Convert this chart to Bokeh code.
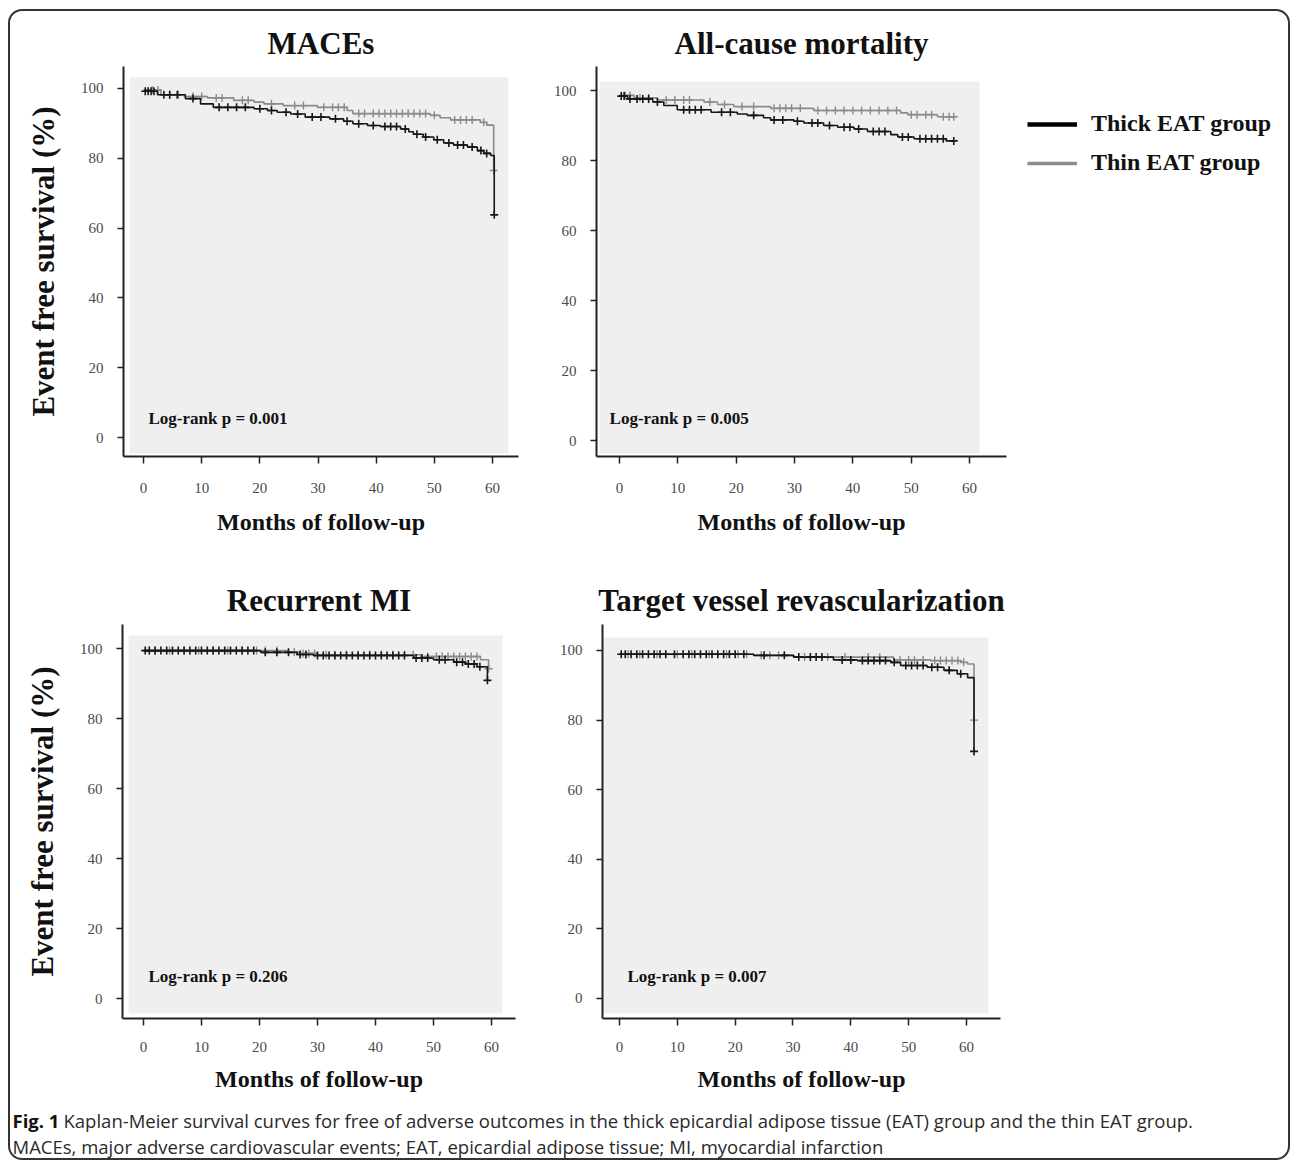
import numpy as np
from bokeh.plotting import figure
from bokeh.models import Range1d, FixedTicker, BoxAnnotation, Label, Legend, LegendItem, Spacer
from bokeh.layouts import row, column
from bokeh.embed import file_html
from bokeh.resources import INLINE

# ---------------- data ----------------
x_ticks = [0, 10, 20, 30, 40, 50, 60]
y_ticks = [0, 20, 40, 60, 80, 100]
group_names = ["Thick EAT group", "Thin EAT group"]
panel_titles = ["MACEs", "All-cause mortality", "Recurrent MI", "Target vessel revascularization"]
logrank_texts = ["Log-rank p = 0.001", "Log-rank p = 0.005", "Log-rank p = 0.206", "Log-rank p = 0.007"]

# MACEs
maces_thick_t = [0, 2.4, 7.2, 9.8, 12.0, 19.0, 21.3, 23.0, 25.3, 27.8, 32.0, 34.4, 36.0, 38.5, 40.7, 44.2,
                 45.6, 46.4, 48.1, 49.9, 51.6, 53.3, 55.7, 57.4, 58.5, 59.7, 60.3]
maces_thick_s = [99.2, 98.2, 97.1, 95.6, 94.6, 94.2, 93.7, 93.2, 92.7, 91.8, 91.3, 90.6, 89.9, 89.4, 89.1, 88.4,
                 87.6, 86.9, 86.1, 85.3, 84.4, 83.8, 83.2, 82.2, 81.4, 80.8, 63.8]
maces_thick_c = [0.3, 0.8, 1.3, 1.8, 3.5, 4.5, 5.8, 8.5, 13, 14.5, 16, 17.5, 20, 22, 24.5, 26.5, 29, 30.5, 33, 35,
                 37, 39.5, 41.5, 42.5, 43.5, 45, 47, 48.5, 50.5, 52.5, 54, 55, 56.5, 58, 59, 60.3]
maces_thin_t = [0, 3.0, 7.0, 11.0, 15.5, 19.0, 20.7, 24.0, 29.9, 35.0, 36.0, 49.3, 51.0, 52.8, 57.9, 59.0, 60.2]
maces_thin_s = [99.6, 98.2, 97.7, 97.3, 96.6, 96.1, 95.6, 95.1, 94.6, 93.7, 92.8, 92.3, 91.6, 91.0, 90.3, 89.5, 76.5]
maces_thin_c = [1.5, 2.5, 4.5, 6, 8.5, 10, 12.5, 13.5, 17, 18, 22, 26, 27.5, 31, 32.5, 33.5, 34.5, 37, 38, 39.5,
                40.5, 41.5, 42.5, 43.5, 44.5, 45.5, 46.5, 47.5, 48.5, 50, 53.5, 54.5, 55.5, 56.5, 58.5, 60.2]

# All-cause mortality
acm_thick_t = [0, 1.4, 5.7, 7.6, 9.9, 15.7, 20.2, 21.9, 24.7, 25.9, 29.9, 31.6, 35.0, 37.4, 40.2, 42.5, 46.5,
               47.7, 50.5, 56.0, 57.3]
acm_thick_s = [98.4, 97.6, 96.7, 95.7, 94.5, 93.8, 93.3, 92.9, 92.2, 91.6, 91.2, 90.7, 90.0, 89.5, 89.0, 88.3, 87.4,
               86.7, 86.2, 85.6, 85.6]
acm_thick_c = [0.3, 0.8, 1.8, 3, 4, 5, 6.5, 11, 12, 13, 14, 17.5, 19, 23, 26.5, 28, 30.5, 33, 34, 36, 38.5, 39.5,
               41, 43.5, 44.5, 45.5, 48.5, 49.5, 51.5, 52.5, 53.5, 54.5, 55.5, 57.3]
acm_thin_t = [0, 2.5, 6.5, 14.5, 16.8, 19.6, 25.9, 33.3, 48.2, 49.4, 54.5, 57.3]
acm_thin_s = [98.6, 97.9, 97.3, 96.7, 96.0, 95.4, 94.9, 94.3, 93.6, 93.1, 92.5, 92.5]
acm_thin_c = [1.0, 1.8, 3.5, 5, 8, 9.5, 11, 12, 15.5, 18, 21, 23, 26.5, 27.5, 28.5, 29.5, 31, 34, 35.5, 37, 38.5,
              40, 41.5, 43, 44.5, 46, 47.5, 50, 51, 52.5, 53.5, 55.5, 56.5, 57.3]

# Recurrent MI
mi_thick_t = [0, 20.2, 26.5, 29.3, 46.6, 50.0, 53.5, 55.5, 57.5, 59.3]
mi_thick_s = [99.4, 98.9, 98.3, 98.0, 97.3, 96.8, 96.1, 95.6, 94.8, 90.9]
mi_thick_c = [0.3, 1, 2, 3, 4, 5, 6, 7, 8, 9, 10, 11, 12, 13, 14, 15, 16, 17, 18, 19, 21, 23, 25, 27, 28, 30, 31,
              32, 33, 34, 35, 36, 37, 38, 39, 40, 41, 42, 43, 44, 45, 47, 48, 49, 51, 52, 54, 55, 56, 57, 58, 59.3]
mi_thin_t = [0, 24.8, 27.0, 30.0, 47.8, 58.1, 59.5]
mi_thin_s = [99.4, 99.0, 98.6, 98.2, 97.7, 96.8, 94.2]
mi_thin_c = [2, 4.5, 7, 9.5, 12, 14.5, 17, 19.5, 21, 23, 26, 27.5, 28.5, 29.5, 31.5, 33, 35, 37, 39, 41, 43, 45,
             46.5, 49, 50.5, 51.5, 52.5, 53.5, 54.5, 55.5, 56.5, 57.5, 59.5]

# Target vessel revascularization
tvr_thick_t = [0, 23.2, 30.1, 37.0, 41.1, 46.9, 48.6, 53.2, 56.1, 58.4, 60.2, 61.3]
tvr_thick_s = [98.9, 98.6, 98.1, 97.3, 97.1, 96.6, 95.7, 95.2, 94.3, 93.3, 92.2, 71.0]
tvr_thick_c = [0.3, 1, 2, 3, 4, 5, 6, 7, 8, 9.5, 11, 12, 13, 14, 15, 16, 17, 18, 19, 20, 21.5, 25, 28.5, 31, 33,
               34, 35, 38.5, 40, 42, 43, 44, 45, 46, 47.5, 49.5, 50.5, 51.5, 52.5, 54, 55, 57, 59, 61.3]
tvr_thin_t = [0, 23.2, 30.1, 47.4, 53.8, 59.0, 60.2, 61.3]
tvr_thin_s = [98.9, 98.6, 98.1, 97.3, 97.1, 96.6, 96.1, 80.0]
tvr_thin_c = [1.5, 3.5, 6.5, 10, 12.5, 15.5, 18.5, 20.5, 22, 24.5, 26, 27.5, 32, 36, 39, 43, 45, 48.5, 50, 51,
              52.5, 54.5, 55.5, 56.5, 57.5, 58.5, 59.5, 61.3]

caption_bold = "Fig. 1"
caption_line1 = ("Kaplan-Meier survival curves for free of adverse outcomes in the thick epicardial adipose "
                 "tissue (EAT) group and the thin EAT group.")
caption_line2 = "MACEs, major adverse cardiovascular events; EAT, epicardial adipose tissue; MI, myocardial infarction"

# ---------------- styling ----------------
SERIF = "Liberation Serif"
THICK_COLOR = "#161616"
THIN_COLOR = "#8a8a8a"
PANEL_BG = "#efefef"


def step_at(t, s, c):
    t = np.asarray(t)
    idx = np.searchsorted(t, np.asarray(c), side="right") - 1
    return [s[i] for i in idx]


def make_panel(title, logrank, groups, fw, fh, ml, mr, mt, mb, xr, yr, gray, lr_xy, ylabel,
               title_standoff, tick_standoff, xlabel_standoff, corner=False):
    p = figure(frame_width=fw, frame_height=fh, min_border_left=ml, min_border_right=mr,
               min_border_top=mt, min_border_bottom=mb,
               x_range=Range1d(*xr), y_range=Range1d(*yr),
               output_backend="svg", toolbar_location=None)
    p.grid.visible = False
    p.outline_line_color = None
    p.background_fill_color = "white"
    p.border_fill_color = None if corner else "white"

    p.title.text = title
    p.title.align = "center"
    p.title.text_font = SERIF
    p.title.text_font_style = "bold"
    p.title.text_font_size = "31px"
    p.title.text_color = "#111111"
    p.title.standoff = title_standoff

    p.add_layout(BoxAnnotation(left=gray[0], right=gray[1], bottom=gray[2], top=gray[3],
                               fill_color=PANEL_BG, fill_alpha=1.0, line_color=None, level="underlay"))

    for ax in (p.xaxis[0], p.yaxis[0]):
        ax.axis_line_color = "#222222"
        ax.axis_line_width = 2
        ax.major_tick_line_color = "#222222"
        ax.major_tick_line_width = 1.5
        ax.major_tick_in = 0
        ax.minor_tick_line_color = None
        ax.major_label_text_font = SERIF
        ax.major_label_text_font_size = "15px"
        ax.major_label_text_color = "#4a4a4a"
        ax.axis_label_text_font = SERIF
        ax.axis_label_text_font_style = "bold"
        ax.axis_label_text_color = "#111111"
    p.xaxis.ticker = FixedTicker(ticks=x_ticks)
    p.yaxis.ticker = FixedTicker(ticks=y_ticks)
    p.xaxis.major_tick_out = 7
    p.xaxis.major_label_standoff = tick_standoff
    p.yaxis.major_tick_out = 6
    p.yaxis.major_label_standoff = 14
    p.xaxis.axis_label = "Months of follow-up"
    p.xaxis.axis_label_text_font_size = "24px"
    p.xaxis.axis_label_standoff = xlabel_standoff
    if ylabel:
        p.yaxis.axis_label = "Event free survival (%)"
        p.yaxis.axis_label_text_font_size = "31px"
        p.yaxis.axis_label_standoff = 17

    (tk_t, tk_s, tk_c), (tn_t, tn_s, tn_c) = groups
    p.step(tn_t, tn_s, mode="after", line_color=THIN_COLOR, line_width=1.6)
    p.scatter(tn_c, step_at(tn_t, tn_s, tn_c), marker="cross", size=8,
              line_color=THIN_COLOR, line_width=1.4)
    p.step(tk_t, tk_s, mode="after", line_color=THICK_COLOR, line_width=1.6)
    p.scatter(tk_c, step_at(tk_t, tk_s, tk_c), marker="cross", size=8,
              line_color=THICK_COLOR, line_width=1.6)

    p.add_layout(Label(x=lr_xy[0], y=lr_xy[1], text=logrank, text_font=SERIF, text_font_style="bold",
                       text_font_size="17px", text_color="#111111", text_baseline="middle"))
    return p


# content origin is at page (10, 11); rows: 550 px and 540 px high (frames aligned within a row)
ROW1_MT, ROW1_FH, ROW1_MB = 55, 390, 105
ROW2_MT, ROW2_FH, ROW2_MB = 63, 394, 83

p1 = make_panel(panel_titles[0], logrank_texts[0],
                ((maces_thick_t, maces_thick_s, maces_thick_c), (maces_thin_t, maces_thin_s, maces_thin_c)),
                fw=395, fh=ROW1_FH, ml=113, mr=20, mt=ROW1_MT, mb=ROW1_MB,
                xr=(-3.44, 64.47), yr=(-5.44, 106.3), gray=(-2.41, 62.75, -4.58, 103.2),
                lr_xy=(0.86, 5.4), ylabel=True, title_standoff=11, tick_standoff=19, xlabel_standoff=13,
                corner=True)
p2 = make_panel(panel_titles[1], logrank_texts[1],
                ((acm_thick_t, acm_thick_s, acm_thick_c), (acm_thin_t, acm_thin_s, acm_thin_c)),
                fw=410, fh=ROW1_FH, ml=58, mr=10, mt=ROW1_MT, mb=ROW1_MB,
                xr=(-3.94, 66.34), yr=(-4.57, 106.86), gray=(-3.43, 61.7, -3.7, 102.6),
                lr_xy=(-1.7, 6.3), ylabel=False, title_standoff=11, tick_standoff=19, xlabel_standoff=13)
p3 = make_panel(panel_titles[2], logrank_texts[2],
                ((mi_thick_t, mi_thick_s, mi_thick_c), (mi_thin_t, mi_thin_s, mi_thin_c)),
                fw=393, fh=ROW2_FH, ml=112, mr=23, mt=ROW2_MT, mb=ROW2_MB,
                xr=(-3.62, 64.14), yr=(-5.71, 106.86), gray=(-2.59, 61.9, -4.3, 103.7),
                lr_xy=(0.86, 6.3), ylabel=True, title_standoff=13, tick_standoff=16, xlabel_standoff=11)
p4 = make_panel(panel_titles[3], logrank_texts[3],
                ((tvr_thick_t, tvr_thick_s, tvr_thick_c), (tvr_thin_t, tvr_thin_s, tvr_thin_c)),
                fw=398, fh=ROW2_FH, ml=64, mr=16, mt=ROW2_MT, mb=ROW2_MB,
                xr=(-2.94, 65.88), yr=(-5.75, 107.47), gray=(-2.77, 63.8, -4.3, 103.7),
                lr_xy=(1.38, 6.3), ylabel=False, title_standoff=13, tick_standoff=16, xlabel_standoff=11)

# ---------------- legend ----------------
LEG_W = 272
p_leg = figure(frame_width=LEG_W, frame_height=ROW1_FH, x_range=Range1d(0, 1), y_range=Range1d(0, 1),
               x_axis_type=None, y_axis_type=None,
               min_border_left=0, min_border_top=ROW1_MT, min_border_right=0, min_border_bottom=ROW1_MB,
               output_backend="svg", toolbar_location=None)
p_leg.grid.visible = False
p_leg.outline_line_color = None
p_leg.background_fill_color = None
p_leg.border_fill_color = None
# legend-only renderers, kept outside the visible range
r_thick = p_leg.line([-10, -9], [-10, -9], line_color="black", line_width=4.5)
r_thin = p_leg.line([-10, -9], [-10, -9], line_color="#8c8c8c", line_width=3.5)
leg = Legend(items=[LegendItem(label=group_names[0], renderers=[r_thick]),
                    LegendItem(label=group_names[1], renderers=[r_thin])],
             location=(11, 280), glyph_width=50, glyph_height=24, label_height=24, label_standoff=14,
             spacing=12, padding=0, margin=0, border_line_color=None, background_fill_alpha=0,
             label_text_font=SERIF, label_text_font_style="bold", label_text_font_size="24px",
             label_text_color="#111111")
p_leg.add_layout(leg)

# ---------------- caption ----------------
CAP_W, CAP_H = 1273 + LEG_W - 267, 57
p_cap = figure(width=CAP_W, height=CAP_H, x_range=Range1d(0, CAP_W), y_range=Range1d(0, CAP_H),
               x_axis_type=None, y_axis_type=None, min_border=0,
               output_backend="svg", toolbar_location=None)
p_cap.grid.visible = False
p_cap.outline_line_color = None
p_cap.background_fill_color = None
p_cap.border_fill_color = None
CAP_FONT = "Open Sans"
CAP_SIZE = "18.5px"
p_cap.add_layout(Label(x=2, y=CAP_H - 19, text=caption_bold, text_font=CAP_FONT, text_font_style="bold",
                       text_font_size=CAP_SIZE, text_color="#111111", text_baseline="middle"))
p_cap.add_layout(Label(x=53, y=CAP_H - 19, text=caption_line1, text_font=CAP_FONT,
                       text_font_size=CAP_SIZE, text_color="#2a2a2a", text_baseline="middle"))
p_cap.add_layout(Label(x=2, y=CAP_H - 45, text=caption_line2, text_font=CAP_FONT,
                       text_font_size=CAP_SIZE, text_color="#2a2a2a", text_baseline="middle"))

layout = column(row(p1, p2, p_leg), row(p3, p4, Spacer(width=LEG_W, height=540)), p_cap,
                styles={"border": "2px solid #333333", "border-radius": "14px",
                        "margin-left": "8px", "margin-top": "9px"})

open("out.html", "w").write(file_html(layout, INLINE))
